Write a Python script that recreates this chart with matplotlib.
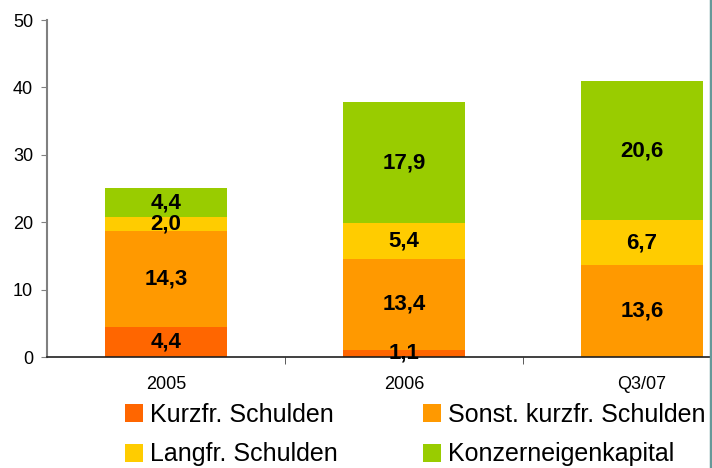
import numpy as np
import matplotlib.pyplot as plt
from matplotlib.lines import Line2D
from matplotlib.patches import Patch

plt.rcParams['font.family'] = ['Liberation Sans', 'DejaVu Sans']

categories = ['2005', '2006', 'Q3/07']
series_names = ['Kurzfr. Schulden', 'Sonst. kurzfr. Schulden',
                'Langfr. Schulden', 'Konzerneigenkapital']
kurzfr = [4.4, 1.1, 0.0]
sonst = [14.3, 13.4, 13.6]
langfr = [2.0, 5.4, 6.7]
eigenkapital = [4.4, 17.9, 20.6]
colors = ['#FF6600', '#FF9900', '#FFCC00', '#99CC00']

fig = plt.figure(figsize=(7.12, 4.68), dpi=100)
ax = fig.add_axes([47 / 712, 111 / 468, 714 / 712, 337 / 468])

x = np.arange(len(categories))
bottom = np.zeros(len(categories))
for vals, col in zip([kurzfr, sonst, langfr, eigenkapital], colors):
    vals = np.array(vals)
    ax.bar(x, vals, width=0.51, bottom=bottom, color=col, zorder=2)
    for xi, b, v in zip(x, bottom, vals):
        if v > 0:
            ax.text(xi, b + v / 2, f'{v:.1f}'.replace('.', ','),
                    ha='center', va='center', fontsize=16,
                    fontweight='bold', color='black', zorder=3)
    bottom += vals

ax.set_xlim(-0.5, 2.5)
ax.set_ylim(0, 50)
ax.set_yticks(range(0, 51, 10))
ax.tick_params(axis='y', labelsize=13, length=4, color='#808080', pad=6)
ax.set_xticks(x)
ax.set_xticklabels(categories)
ax.set_xticks([0.5, 1.5], minor=True)
ax.tick_params(axis='x', which='major', length=0, labelsize=13, pad=14)
ax.tick_params(axis='x', which='minor', length=5, color='#404040')

for s in ['top', 'right']:
    ax.spines[s].set_visible(False)
ax.spines['left'].set_color('#808080')
ax.spines['left'].set_linewidth(1.5)
ax.spines['bottom'].set_color('#202020')
ax.spines['bottom'].set_linewidth(1.2)

handles = [Patch(facecolor=c, edgecolor='none') for c in colors]
order = [0, 2, 1, 3]
fig.legend([handles[i] for i in order], [series_names[i] for i in order],
           ncol=2, loc='upper left', bbox_to_anchor=(125 / 712, 1 - 403 / 468),
           frameon=False, fontsize=18, handlelength=0.72, handleheight=0.72,
           handletextpad=0.28, columnspacing=3.4, labelspacing=0.62,
           borderpad=0, borderaxespad=0)

fig.add_artist(Line2D([710.5 / 712, 710.5 / 712], [0, 1],
                      transform=fig.transFigure, color='#669999', lw=2.5))

fig.savefig('out.png', dpi=100)
